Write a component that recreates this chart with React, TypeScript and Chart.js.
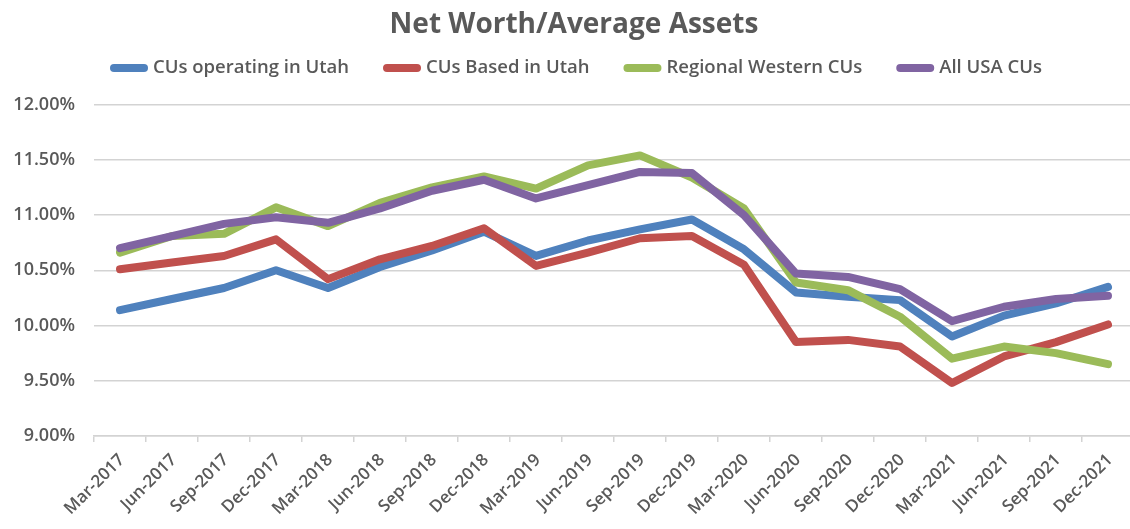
import React, { useEffect, useRef } from 'react';
import { Chart, registerables } from 'chart.js';

Chart.register(...registerables);

const chartTitle = 'Net Worth/Average Assets';

const quarters = [
  'Mar-2017', 'Jun-2017', 'Sep-2017', 'Dec-2017',
  'Mar-2018', 'Jun-2018', 'Sep-2018', 'Dec-2018',
  'Mar-2019', 'Jun-2019', 'Sep-2019', 'Dec-2019',
  'Mar-2020', 'Jun-2020', 'Sep-2020', 'Dec-2020',
  'Mar-2021', 'Jun-2021', 'Sep-2021', 'Dec-2021',
];

const seriesNames = ['CUs operating in Utah', 'CUs Based in Utah', 'Regional Western CUs', 'All USA CUs'];

const operatingInUtah = [10.14, 10.24, 10.34, 10.50, 10.34, 10.53, 10.68, 10.85, 10.63, 10.77, 10.87, 10.96, 10.69, 10.30, 10.26, 10.23, 9.90, 10.09, 10.20, 10.35];
const basedInUtah = [10.51, 10.57, 10.63, 10.78, 10.42, 10.60, 10.72, 10.88, 10.54, 10.66, 10.79, 10.81, 10.55, 9.85, 9.87, 9.81, 9.48, 9.72, 9.85, 10.01];
const regionalWestern = [10.66, 10.81, 10.83, 11.07, 10.90, 11.11, 11.25, 11.35, 11.24, 11.45, 11.54, 11.34, 11.06, 10.39, 10.32, 10.08, 9.70, 9.81, 9.75, 9.65];
const allUSA = [10.70, 10.81, 10.92, 10.98, 10.93, 11.06, 11.22, 11.32, 11.15, 11.27, 11.39, 11.38, 11.00, 10.47, 10.44, 10.33, 10.04, 10.17, 10.24, 10.27];

const yMin = 9;
const yMax = 12;
const yStep = 0.5;

const COLORS = ['#4F81BD', '#C0504D', '#9BBB59', '#8064A2'];
const TEXT = '#595959';
const GRID = '#D3D3D3';
const FONT = '"Open Sans", "DejaVu Sans", sans-serif';

const lineLegend = {
  id: 'lineLegend',
  afterDraw(chart: any) {
    const ctx = chart.ctx as CanvasRenderingContext2D;
    ctx.save();
    ctx.font = `600 18.5px ${FONT}`;
    const swatch = 38;
    const gapText = 5;
    const gapItem = 34;
    const items = chart.data.datasets.map((d: any) => ({
      text: d.label as string,
      color: d.borderColor as string,
      w: ctx.measureText(d.label).width,
    }));
    const total = items.reduce((a: number, it: any) => a + swatch + gapText + it.w, 0) + gapItem * (items.length - 1);
    let x = 576 - total / 2;
    const y = 68;
    items.forEach((it: any) => {
      ctx.strokeStyle = it.color;
      ctx.lineWidth = 8;
      ctx.lineCap = 'round';
      ctx.beginPath();
      ctx.moveTo(x + 4, y);
      ctx.lineTo(x + swatch - 4, y);
      ctx.stroke();
      ctx.fillStyle = TEXT;
      ctx.textBaseline = 'middle';
      ctx.textAlign = 'left';
      ctx.fillText(it.text, x + swatch + gapText, y);
      x += swatch + gapText + it.w + gapItem;
    });
    ctx.restore();
  },
};

export default function App() {
  const ref = useRef<HTMLCanvasElement>(null);

  useEffect(() => {
    const values = [operatingInUtah, basedInUtah, regionalWestern, allUSA];
    const chart = new Chart(ref.current as HTMLCanvasElement, {
      type: 'line',
      data: {
        labels: quarters,
        datasets: seriesNames.map((name, i) => ({
          label: name,
          data: values[i],
          borderColor: COLORS[i],
          backgroundColor: COLORS[i],
          order: 4 - i,
        })),
      },
      options: {
        responsive: true,
        maintainAspectRatio: false,
        animation: false,
        layout: { padding: { left: 14, right: 0, top: 0, bottom: 0 } },
        elements: {
          point: { radius: 0, hoverRadius: 0 },
          line: { tension: 0, borderWidth: 8, borderCapStyle: 'round', borderJoinStyle: 'round', fill: false },
        },
        plugins: {
          legend: { display: false },
          tooltip: { enabled: false },
          title: {
            display: true,
            text: chartTitle,
            color: TEXT,
            font: { family: FONT, size: 28, weight: 'bold' },
            padding: { top: 8, bottom: 63 },
          },
        },
        scales: {
          x: {
            offset: true,
            grid: { offset: true, drawOnChartArea: false, drawTicks: true, tickLength: 6, color: GRID, lineWidth: 1.5 },
            border: { display: true, color: GRID, width: 1.5 },
            ticks: {
              autoSkip: false,
              minRotation: 45,
              maxRotation: 45,
              color: TEXT,
              font: { family: FONT, size: 17, weight: '600' },
              padding: 8,
              labelOffset: 2,
            },
            afterFit: (s: any) => { s.height = 93; },
          },
          y: {
            min: yMin,
            max: yMax,
            ticks: {
              stepSize: yStep,
              color: TEXT,
              font: { family: FONT, size: 18, weight: '600' },
              padding: 19,
              callback: (v: any) => Number(v).toFixed(2) + '%',
            },
            grid: { color: GRID, lineWidth: 1.5, drawTicks: false },
            border: { display: false },
            afterFit: (s: any) => { s.width = 80; },
          },
        },
      },
      plugins: [lineLegend],
    });
    return () => chart.destroy();
  }, []);

  return (
    <div style={{ position: 'fixed', left: 0, top: 0, width: 1130, height: 529, overflow: 'hidden', background: '#fff' }}>
      <div style={{ position: 'relative', width: 1134, height: 529 }}>
        <canvas ref={ref} />
      </div>
    </div>
  );
}
